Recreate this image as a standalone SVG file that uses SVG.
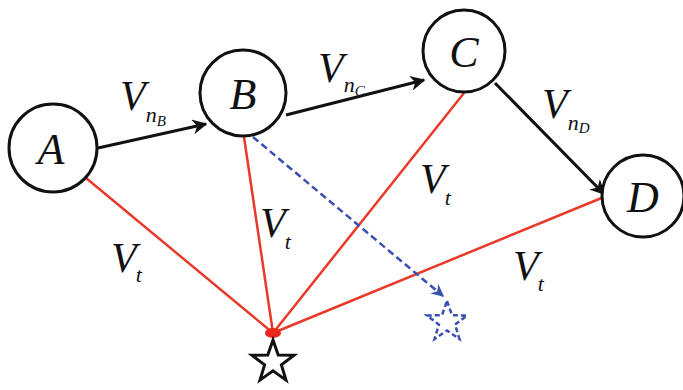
<svg xmlns="http://www.w3.org/2000/svg" width="683" height="390" viewBox="0 0 683 390">
<defs>
<style>
.node circle{fill:#fff;stroke:#111;stroke-width:3}
.node text{font-family:"Liberation Serif",serif;font-style:italic;font-size:44px;fill:#111;text-anchor:middle}
.lbl{font-family:"Liberation Serif",serif;font-style:italic;fill:#111}
.V{font-size:42px}
.s1{font-size:22px}
.s2{font-size:15px}
.blk{stroke:#111;stroke-width:3;fill:none}
.red{stroke:#e8392a;stroke-width:2.5;fill:none}
.blue{stroke:#3a4fb0;stroke-width:2.5;fill:none;stroke-dasharray:7 4}
</style>
<marker id="ab" viewBox="0 0 10 10" refX="9" refY="5" markerWidth="5" markerHeight="5" orient="auto" markerUnits="strokeWidth"><path d="M0,0 L10,5 L0,10 L3,5 Z" fill="#111"/></marker>
<marker id="ablue" viewBox="0 0 10 10" refX="9" refY="5" markerWidth="5" markerHeight="5" orient="auto" markerUnits="strokeWidth"><path d="M0,0 L10,5 L0,10 L3,5 Z" fill="#3a4fb0"/></marker>
</defs>
<rect width="683" height="390" fill="#fff"/>
<g id="connectors">
<line class="red" x1="86" y1="178" x2="273" y2="333"/>
<line class="red" x1="244" y1="137" x2="273" y2="333"/>
<line class="red" x1="464" y1="93" x2="273" y2="333"/>
<line class="red" x1="604" y1="197" x2="273" y2="333"/>
<line class="blue" x1="253" y1="137" x2="443" y2="296" marker-end="url(#ablue)"/>
<line class="blk" x1="98" y1="148" x2="206" y2="124" marker-end="url(#ab)"/>
<line class="blk" x1="286" y1="115" x2="424" y2="80" marker-end="url(#ab)"/>
<line class="blk" x1="495" y1="83" x2="604" y2="194" marker-end="url(#ab)"/>
<ellipse cx="273" cy="333" rx="8" ry="5" fill="#e8281c"/>
</g>
<g id="A" class="node"><circle cx="53" cy="148" r="44"/><text x="51" y="164">A</text></g>
<g id="B" class="node"><circle cx="243" cy="93" r="43"/><text x="243" y="109">B</text></g>
<g id="C" class="node"><circle cx="464" cy="51" r="41"/><text x="464" y="67">C</text></g>
<g id="D" class="node"><circle cx="643" cy="196" r="41"/><text x="643" y="212">D</text></g>
<g id="star"><polygon points="273,340 278.2,355.1 294.1,355.2 281.4,364.9 286.0,380.1 273,370.9 260.0,380.1 264.6,364.9 251.9,355.2 267.8,355.1" fill="#fff" stroke="#111" stroke-width="3"/></g>
<g id="star2"><polygon points="447,301 452.0,315.2 467.0,315.5 455.1,324.6 459.4,339.0 447,330.4 434.6,339.0 438.9,324.6 427.0,315.5 442.0,315.2" fill="#fff" stroke="#3a4fb0" stroke-width="2.5" stroke-dasharray="5 3"/></g>
<g id="labels">
<text class="lbl" x="120" y="110"><tspan class="V">V</tspan><tspan class="s1" dy="12">n</tspan><tspan class="s2" dy="4">B</tspan></text>
<text class="lbl" x="318" y="82"><tspan class="V">V</tspan><tspan class="s1" dy="10">n</tspan><tspan class="s2" dy="4">C</tspan></text>
<text class="lbl" x="542" y="118"><tspan class="V">V</tspan><tspan class="s1" dy="12">n</tspan><tspan class="s2" dy="3">D</tspan></text>
<text class="lbl" x="111" y="272"><tspan class="V">V</tspan><tspan class="s1" dx="-1" dy="10">t</tspan></text>
<text class="lbl" x="260" y="237"><tspan class="V">V</tspan><tspan class="s1" dx="-1" dy="12">t</tspan></text>
<text class="lbl" x="420" y="193"><tspan class="V">V</tspan><tspan class="s1" dx="-1" dy="12">t</tspan></text>
<text class="lbl" x="513" y="280"><tspan class="V">V</tspan><tspan class="s1" dx="-1" dy="11">t</tspan></text>
</g>
</svg>
